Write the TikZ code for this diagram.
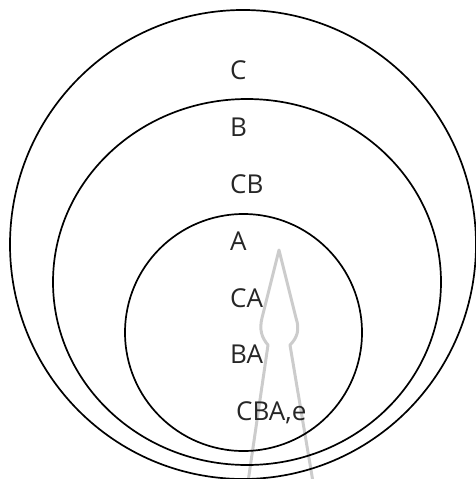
\documentclass[tikz,border=0pt]{standalone}
\usepackage{fontspec}
\setmainfont{Open Sans}
\begin{document}
\begin{tikzpicture}[x=1pt,y=-1pt,
  ring/.style={draw=black,line width=1.7pt},
  lbl/.style={anchor=base west,inner sep=0pt,font=\fontsize{26}{30}\selectfont,text=black!85},
  spire/.style={draw=black!20,line width=3pt,line join=round}]
\useasboundingbox (0,0) rectangle (475,479);
% watermark spire
\draw[spire] (248,482) -- (268,345) .. controls (262,338) and (259,330) .. (262,318) -- (279,250) -- (296,318) .. controls (300,330) and (297,338) .. (290,345) -- (313,482);
% rings
\draw[ring] (243,244.5) ellipse [x radius=233,y radius=234.5];
\draw[ring] (247,282) ellipse [x radius=194,y radius=183];
\draw[ring] (243.5,332.5) ellipse [x radius=118.5,y radius=118.5];
% labels
\node[lbl] (c)   at (230,79)  {C};
\node[lbl] (b)   at (230,136) {B};
\node[lbl] (cb)  at (230,193) {CB};
\node[lbl] (a)   at (230,250) {A};
\node[lbl] (ca)  at (230,307) {CA};
\node[lbl] (ba)  at (230,363) {BA};
\node[lbl] (cbae) at (236,420) {CBA,e};
\end{tikzpicture}
\end{document}
